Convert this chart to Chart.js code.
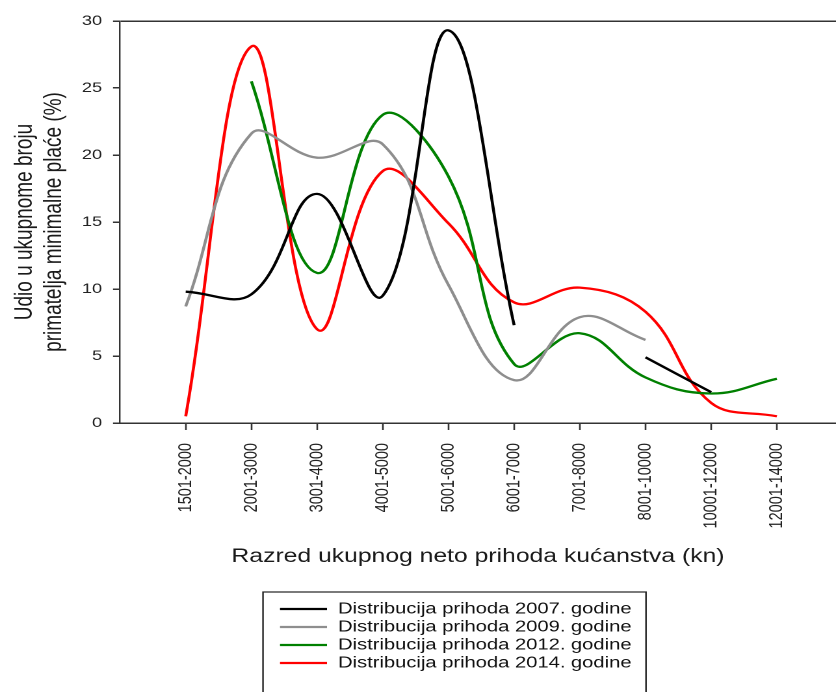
<!DOCTYPE html>
<html>
<head>
<meta charset="utf-8">
<script src="https://cdn.jsdelivr.net/npm/chart.js@4.4.1/dist/chart.umd.min.js"></script>
<style>
  html, body { margin: 0; padding: 0; background: #fff; }
  #c { display: block; }
</style>
</head>
<body>
<canvas id="c" width="643" height="692" style="width:836px;height:692px"></canvas>
<script>
// ---- data ----
const categories = ['1501-2000', '2001-3000', '3001-4000', '4001-5000', '5001-6000',
                    '6001-7000', '7001-8000', '8001-10000', '10001-12000', '12001-14000'];
const yTicks = [0, 5, 10, 15, 20, 25, 30];
const labels2007 = 'Distribucija prihoda 2007. godine';
const labels2009 = 'Distribucija prihoda 2009. godine';
const labels2012 = 'Distribucija prihoda 2012. godine';
const labels2014 = 'Distribucija prihoda 2014. godine';
const values2007 = [9.8, 9.6, 17.1, 9.5, 29.3, 7.3, null, 4.9, 2.3, null];
const values2009 = [8.7, 21.6, 19.8, 20.8, 10.3, 3.2, 7.9, 6.2, null, null];
const values2012 = [null, 25.5, 11.2, 23.0, 18.4, 4.4, 6.7, 3.4, 2.2, 3.3];
const values2014 = [0.5, 28.1, 7.0, 18.8, 14.9, 9.0, 10.1, 8.3, 1.5, 0.5];
const xTitle = 'Razred ukupnog neto prihoda kućanstva (kn)';
const yTitle = ['Udio u ukupnome broju', 'primatelja minimalne plaće (%)'];

// the reference is horizontally stretched; the canvas is drawn narrower and displayed wider
const SX = 836 / 643;

const toPoints = arr => arr.map((v, i) => ({ x: i, y: v }));
const FONT = 'Arial, "Liberation Sans", Helvetica, sans-serif';
Chart.defaults.font.family = FONT;
Chart.defaults.color = '#1a1a1a';

function ds(label, values, color) {
  return {
    label: label,
    data: toPoints(values),
    borderColor: color,
    backgroundColor: color,
    borderWidth: 2.3,
    pointRadius: 0,
    pointHoverRadius: 0,
    tension: 0.4,
    fill: false,
    spanGaps: false
  };
}

// legend drawn in a framed box below the axis title
const boxedLegend = {
  id: 'boxedLegend',
  afterDraw(chart) {
    const ctx = chart.ctx;
    const left = 263 / SX, right = 646 / SX, top = 592;
    ctx.save();
    ctx.strokeStyle = '#222';
    ctx.lineWidth = 1.2;
    ctx.strokeRect(left, top, right - left, 130);
    ctx.font = '15.5px ' + FONT;
    ctx.textBaseline = 'middle';
    ctx.textAlign = 'left';
    chart.data.datasets.forEach((d, i) => {
      const y = 609 + i * 18;
      ctx.beginPath();
      ctx.strokeStyle = d.borderColor;
      ctx.lineWidth = 2.3;
      ctx.moveTo(280 / SX, y);
      ctx.lineTo(327 / SX, y);
      ctx.stroke();
      ctx.fillStyle = '#111';
      ctx.fillText(d.label, 338 / SX, y);
    });
    ctx.restore();
  }
};

new Chart(document.getElementById('c'), {
  type: 'line',
  data: {
    datasets: [
      ds(labels2007, values2007, '#000000'),
      ds(labels2009, values2009, '#8e8e8e'),
      ds(labels2012, values2012, '#008000'),
      ds(labels2014, values2014, '#ff0000')
    ]
  },
  options: {
    responsive: false,
    devicePixelRatio: 2,
    animation: false,
    layout: { padding: { top: 21, left: 0, right: 0, bottom: 93.25 } },
    plugins: { legend: { display: false }, tooltip: { enabled: false } },
    scales: {
      x: {
        type: 'linear',
        min: -1,
        max: 9.9,
        afterBuildTicks: s => { s.ticks = categories.map((c, i) => ({ value: i })); },
        afterFit: s => { s.height = 175.75; },
        ticks: {
          autoSkip: false,
          maxRotation: 90,
          minRotation: 90,
          padding: 13,
          color: '#222',
          font: { size: 14.5 },
          callback: v => categories[v]
        },
        grid: { drawOnChartArea: false, drawTicks: true, tickLength: 7, tickColor: '#333', tickWidth: 1.3 },
        border: { display: true, color: '#333', width: 1.5 },
        title: {
          display: true,
          text: xTitle,
          color: '#1a1a1a',
          font: { size: 19 },
          padding: { top: 0, bottom: 30.35 }
        }
      },
      y: {
        min: 0,
        max: 30,
        afterBuildTicks: s => { s.ticks = yTicks.map(v => ({ value: v })); },
        afterFit: s => { s.width = 120 / SX; },
        ticks: {
          padding: 8.4,
          color: '#222',
          font: { size: 14 }
        },
        grid: {
          drawOnChartArea: true,
          drawTicks: true,
          tickLength: 7 / SX,
          tickColor: '#333',
          lineWidth: 1.5,
          color: c => (c.tick && c.tick.value === 30 ? '#333' : 'rgba(0,0,0,0)')
        },
        border: { display: true, color: '#333', width: 1.2 },
        title: {
          display: true,
          text: yTitle,
          color: '#1a1a1a',
          font: { size: 19 },
          padding: { top: 7.8, bottom: 0 }
        }
      }
    }
  },
  plugins: [boxedLegend]
});
</script>
</body>
</html>
